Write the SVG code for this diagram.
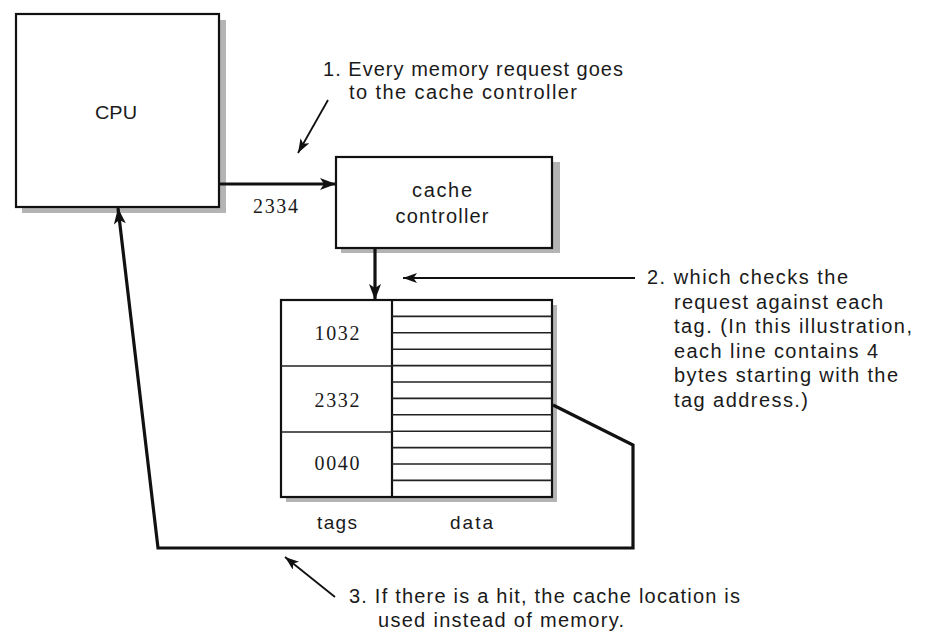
<svg xmlns="http://www.w3.org/2000/svg" width="950" height="635" viewBox="0 0 950 635">
<defs>
<style>
.box{fill:#fff;stroke:#111;stroke-width:2.2}
.shadow{fill:#b4b4b4;stroke:none}
.conn{fill:none;stroke:#111;stroke-width:3.2;stroke-linejoin:miter}
.note{fill:none;stroke:#111;stroke-width:1.8}
.row{stroke:#222;stroke-width:1.6}
.sans{font-family:"Liberation Sans",Arial,sans-serif;fill:#1a1a1a}
.serif{font-family:"Liberation Serif","Times New Roman",serif;fill:#1a1a1a}
.ann{font-size:20px}
</style>
<marker id="bigArrow" markerUnits="userSpaceOnUse" markerWidth="18" markerHeight="14" refX="16" refY="6" orient="auto" viewBox="0 0 18 14">
<path d="M0,0 L16,6 L0,12 L4,6 Z" fill="#111"/>
</marker>
<marker id="smallArrow" markerUnits="userSpaceOnUse" markerWidth="16" markerHeight="12" refX="14" refY="5" orient="auto" viewBox="0 0 16 12">
<path d="M0,0 L14,5 L0,10 L3.5,5 Z" fill="#111"/>
</marker>
</defs>
<rect width="950" height="635" fill="#fff"/>

<g id="cpu">
<rect class="shadow" x="22" y="20" width="204" height="193"/>
<rect class="box" x="16" y="14" width="203" height="193"/>
<text class="sans" x="116" y="119" font-size="18" text-anchor="middle" textLength="42" lengthAdjust="spacingAndGlyphs">CPU</text>
</g>

<g id="cache-controller">
<rect class="shadow" x="341" y="162" width="219" height="91"/>
<rect class="box" x="336" y="157" width="216" height="91"/>
<text class="sans" x="442" y="197" font-size="20" text-anchor="middle" textLength="60">cache</text>
<text class="sans" x="442" y="223" font-size="20" text-anchor="middle" textLength="93">controller</text>
</g>

<g id="cache-table">
<rect class="shadow" x="286" y="305" width="271" height="197"/>
<rect class="box" x="281" y="300" width="271" height="197"/>
<line x1="392" y1="300" x2="392" y2="497" stroke="#111" stroke-width="2.2"/>
<line class="row" x1="281" y1="366" x2="392" y2="366"/>
<line class="row" x1="281" y1="432" x2="392" y2="432"/>
<g class="row">
<line x1="392" y1="316.4" x2="552" y2="316.4"/>
<line x1="392" y1="332.8" x2="552" y2="332.8"/>
<line x1="392" y1="349.2" x2="552" y2="349.2"/>
<line x1="392" y1="365.6" x2="552" y2="365.6"/>
<line x1="392" y1="382" x2="552" y2="382"/>
<line x1="392" y1="398.4" x2="552" y2="398.4"/>
<line x1="392" y1="414.8" x2="552" y2="414.8"/>
<line x1="392" y1="431.2" x2="552" y2="431.2"/>
<line x1="392" y1="447.6" x2="552" y2="447.6"/>
<line x1="392" y1="464" x2="552" y2="464"/>
<line x1="392" y1="480.4" x2="552" y2="480.4"/>
</g>
<text class="serif" x="337" y="340" font-size="20" text-anchor="middle" textLength="45">1032</text>
<text class="serif" x="337" y="407" font-size="20" text-anchor="middle" textLength="45">2332</text>
<text class="serif" x="337" y="470" font-size="20" text-anchor="middle" textLength="45">0040</text>
<text class="sans" x="317" y="529" font-size="19" textLength="40">tags</text>
<text class="sans" x="450" y="529" font-size="19" textLength="43">data</text>
</g>

<g id="connectors">
<line class="conn" x1="219" y1="184" x2="336" y2="184" marker-end="url(#bigArrow)"/>
<line class="conn" x1="375" y1="248" x2="375" y2="300" marker-end="url(#bigArrow)"/>
<polyline class="conn" points="553,405 633,445 633,548 158,548 118,208" marker-end="url(#bigArrow)"/>
<line class="note" x1="328" y1="100" x2="298" y2="153" marker-end="url(#smallArrow)"/>
<line class="note" x1="635" y1="278" x2="403" y2="278" marker-end="url(#smallArrow)"/>
<line class="note" x1="335" y1="597" x2="285" y2="557" marker-end="url(#smallArrow)"/>
</g>

<g id="label-2334">
<text class="serif" x="253" y="213" font-size="20" textLength="45">2334</text>
</g>

<g id="note-1" class="sans ann">
<text x="323" y="76" font-size="20" textLength="300">1. Every memory request goes</text>
<text x="349" y="99" font-size="20" textLength="228">to the cache controller</text>
</g>

<g id="note-2" class="sans ann">
<text x="647" y="284" font-size="20" textLength="201">2. which checks the</text>
<text x="674" y="308.5" font-size="20" textLength="209">request against each</text>
<text x="674" y="333" font-size="20" textLength="238">tag. (In this illustration,</text>
<text x="674" y="357.5" font-size="20" textLength="204">each line contains 4</text>
<text x="674" y="382" font-size="20" textLength="224">bytes starting with the</text>
<text x="674" y="406.5" font-size="20" textLength="134">tag address.)</text>
</g>

<g id="note-3" class="sans ann">
<text x="349" y="603" font-size="20" textLength="391">3. If there is a hit, the cache location is</text>
<text x="378" y="627" font-size="20" textLength="246">used instead of memory.</text>
</g>
</svg>
